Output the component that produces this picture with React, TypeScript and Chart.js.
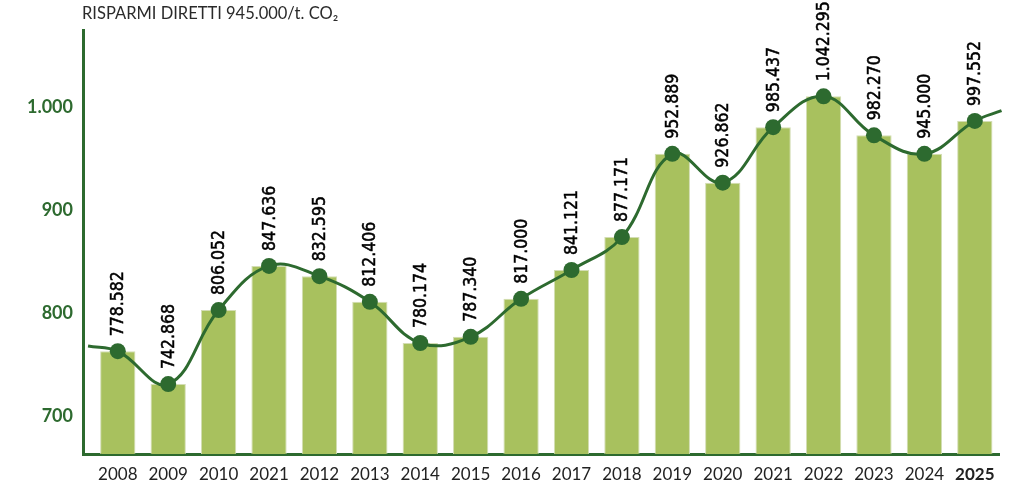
import { Chart, registerables } from 'chart.js';
import type { Plugin } from 'chart.js';
import { useEffect, useRef } from 'react';

Chart.register(...registerables);

// years as printed under the bars (the 4th label really reads 2021 in the source)
const YEARS = [
    '2008', '2009', '2010', '2021', '2012', '2013', '2014', '2015', '2016',
    '2017', '2018', '2019', '2020', '2021', '2022', '2023', '2024', '2025',
];

// bar heights, in thousands of t CO2
const VALUES = [
    763, 731, 803, 846, 836, 811, 771, 777, 814,
    842, 874, 955, 927, 981, 1011, 973, 955, 987,
];

// value labels as printed above each point
const VALUE_LABELS = [
    '778.582', '742.868', '806.052', '847.636', '832.595', '812.406',
    '780.174', '787.340', '817.000', '841.121', '877.171', '952.889',
    '926.862', '985.437', '1.042.295', '982.270', '945.000', '997.552',
];

// where the curve runs in from the left and out to the right
const LINE_START = { x: -0.59, y: 768 };
const LINE_END = { x: 17.53, y: 997 };

const Y_TICKS = [700, 800, 900, 1000];
const Y_TICK_LABELS = ['700', '800', '900', '1.000'];

const TITLE = 'RISPARMI DIRETTI 945.000/t. CO₂';

const DARK_GREEN = '#2d6a2f';
const BAR_GREEN = '#a8c15e';

const labelsPlugin: Plugin<'bar'> = {
    id: 'valueLabels',
    afterDatasetsDraw(chart) {
        const { ctx } = chart;
        const meta = chart.getDatasetMeta(1);
        ctx.save();
        ctx.fillStyle = '#000';
        ctx.strokeStyle = '#000';
        ctx.lineWidth = 0.5;
        ctx.font = "17.5px 'DejaVu Sans Condensed', 'DejaVu Sans'";
        ctx.textAlign = 'left';
        ctx.textBaseline = 'middle';
        VALUE_LABELS.forEach((label, i) => {
            const pt = meta.data[i + 1];
            if (!pt) return;
            ctx.save();
            ctx.translate(pt.x + 1, pt.y - 15);
            ctx.rotate(-Math.PI / 2);
            ctx.fillText(label, 0, 0);
            ctx.strokeText(label, 0, 0);
            ctx.restore();
        });
        ctx.restore();
    },
    afterDraw(chart) {
        const { ctx } = chart;
        ctx.save();
        ctx.fillStyle = '#2a2a2a';
        ctx.font = '16.5px Lato';
        ctx.textAlign = 'left';
        ctx.textBaseline = 'middle';
        ctx.fillText(TITLE, 82, 14);
        ctx.restore();
    },
};

export default function App() {
    const canvasRef = useRef<HTMLCanvasElement>(null);

    useEffect(() => {
        if (!canvasRef.current) return;

        const lineData = [
            LINE_START,
            ...VALUES.map((v, i) => ({ x: i, y: v })),
            LINE_END,
        ];

        const chart = new Chart(canvasRef.current, {
            type: 'bar',
            data: {
                datasets: [
                    {
                        type: 'bar',
                        data: VALUES.map((v, i) => ({ x: i, y: v })),
                        backgroundColor: BAR_GREEN,
                        borderColor: '#d3ddb4',
                        borderWidth: 1,
                        barPercentage: 0.7,
                        categoryPercentage: 1,
                        order: 1,
                    },
                    {
                        type: 'line',
                        data: lineData as any,
                        borderColor: DARK_GREEN,
                        borderWidth: 3,
                        tension: 0.4,
                        pointRadius: lineData.map((_, i) =>
                            i === 0 || i === lineData.length - 1 ? 0 : 8,
                        ),
                        pointBackgroundColor: DARK_GREEN,
                        pointBorderWidth: 0,
                        clip: false,
                        order: 0,
                    } as any,
                ],
            },
            options: {
                responsive: false,
                animation: false,
                layout: { padding: { left: 0, right: 25, top: 30, bottom: 0 } },
                plugins: {
                    legend: { display: false },
                    tooltip: { enabled: false },
                },
                scales: {
                    x: {
                        type: 'linear',
                        offset: false,
                        min: -0.69,
                        max: 17.48,
                        grid: { display: false, drawTicks: false },
                        border: { color: DARK_GREEN, width: 3 },
                        afterBuildTicks: (scale) => {
                            scale.ticks = YEARS.map((_, i) => ({ value: i }));
                        },
                        afterFit: (scale) => {
                            scale.height = 31;
                        },
                        ticks: {
                            padding: 10,
                            color: '#222',
                            autoSkip: false,
                            maxRotation: 0,
                            font: (c: any) => ({
                                family: 'Lato',
                                size: 17,
                                weight:
                                    c.tick && c.tick.value === YEARS.length - 1
                                        ? 'bold'
                                        : 'normal',
                            }),
                            callback: (v) => YEARS[Number(v)] ?? '',
                        },
                    },
                    y: {
                        type: 'linear',
                        min: 663,
                        max: 1075.5,
                        grid: { display: false, drawTicks: false },
                        border: { color: DARK_GREEN, width: 3 },
                        afterBuildTicks: (scale) => {
                            scale.ticks = Y_TICKS.map((v) => ({ value: v }));
                        },
                        afterFit: (scale) => {
                            scale.width = 83;
                        },
                        ticks: {
                            padding: 10,
                            color: DARK_GREEN,
                            font: { family: 'Lato', size: 18, weight: 'bold' },
                            callback: (v) =>
                                Y_TICK_LABELS[Y_TICKS.indexOf(Number(v))] ?? '',
                        },
                    },
                },
            },
            plugins: [labelsPlugin],
        });

        return () => {
            chart.destroy();
        };
    }, []);

    return (
        <div
            style={{
                position: 'fixed',
                left: 0,
                top: 0,
                width: 1024,
                height: 485,
                background: '#fff',
            }}
        >
            <canvas ref={canvasRef} width={1024} height={485} />
        </div>
    );
}
